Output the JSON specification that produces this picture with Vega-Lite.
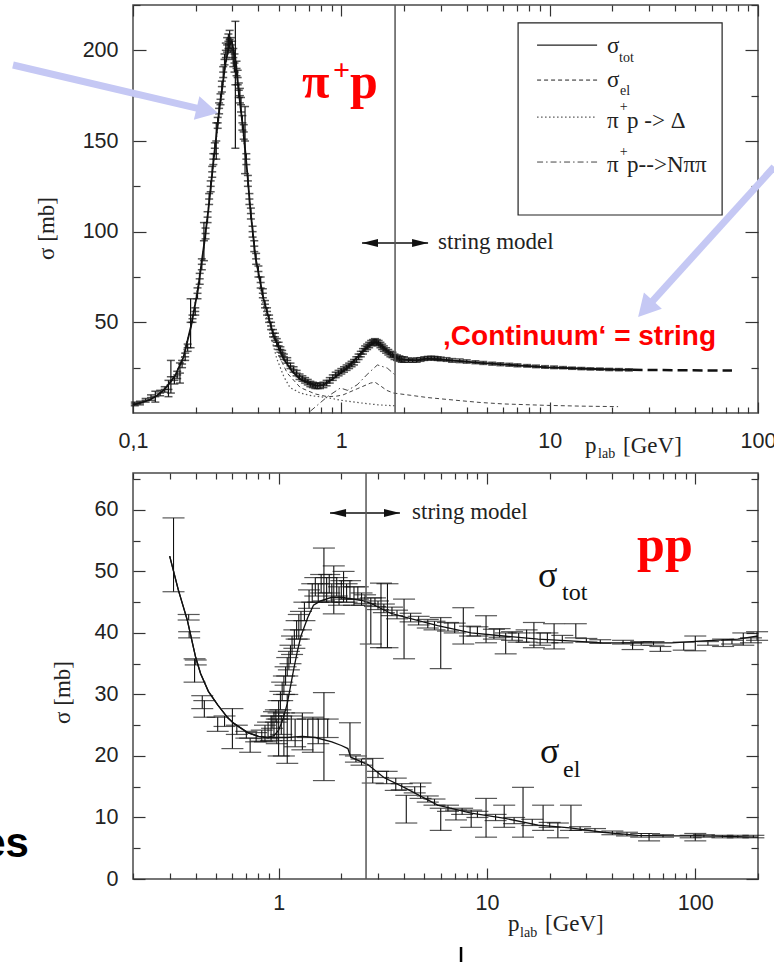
{
  "$schema": "https://vega.github.io/schema/vega-lite/v6.json",
  "autosize": {"type": "none"},
  "padding": {"left": 133, "top": 5, "right": 641, "bottom": 957},
  "background": "white",
  "spacing": 60,
  "bounds": "flush",
  "config": {
    "view": {"stroke": "#4a4a4a", "strokeWidth": 1.5},
    "axis": {"domain": false, "grid": false, "labelFont": "Liberation Sans", "labelFontSize": 21.5, "labelColor": "#222", "tickColor": "#333", "tickWidth": 1.2, "labelFlush": false, "labelOverlap": false, "labelBound": false, "titleFont": "Liberation Serif", "titleFontSize": 23, "titleFontWeight": "normal", "titleColor": "#222"},
    "text": {"font": "Liberation Serif"}
  },
  "datasets": {
    "topTot": [{"x":0.1,"y":4.5},{"x":0.11,"y":5.8},{"x":0.12,"y":7.2},{"x":0.13,"y":9.5},{"x":0.14,"y":12.5},{"x":0.15,"y":16.5},{"x":0.16,"y":21},{"x":0.175,"y":31},{"x":0.19,"y":48},{"x":0.205,"y":68},{"x":0.22,"y":94},{"x":0.23,"y":112},{"x":0.245,"y":142},{"x":0.26,"y":168},{"x":0.278,"y":193},{"x":0.29,"y":203},{"x":0.298,"y":205},{"x":0.31,"y":195},{"x":0.321,"y":178},{"x":0.339,"y":155},{"x":0.354,"y":132},{"x":0.366,"y":112},{"x":0.387,"y":86},{"x":0.423,"y":63},{"x":0.472,"y":43},{"x":0.527,"y":30},{"x":0.58,"y":23},{"x":0.636,"y":18.5},{"x":0.75,"y":15.2},{"x":0.82,"y":15.5},{"x":0.915,"y":19},{"x":1.0,"y":22.5},{"x":1.07,"y":25},{"x":1.23,"y":32.5},{"x":1.35,"y":37},{"x":1.45,"y":39},{"x":1.55,"y":37.5},{"x":1.72,"y":32.5},{"x":1.92,"y":29.5},{"x":2.31,"y":29},{"x":2.58,"y":30},{"x":3.22,"y":29.2},{"x":4.64,"y":27.6},{"x":9.73,"y":25.2},{"x":15,"y":24.4},{"x":20,"y":24},{"x":25,"y":23.8}],
    "topTotExt": [{"x":25,"y":23.8},{"x":40,"y":23.6},{"x":75,"y":23.4}],
    "topDelta": [{"x":0.1,"y":4.3},{"x":0.13,"y":9.3},{"x":0.16,"y":20.5},{"x":0.19,"y":47},{"x":0.22,"y":93},{"x":0.245,"y":141},{"x":0.278,"y":192},{"x":0.298,"y":204},{"x":0.31,"y":194},{"x":0.33,"y":166},{"x":0.35,"y":136},{"x":0.37,"y":108},{"x":0.39,"y":84},{"x":0.42,"y":61},{"x":0.455,"y":44},{"x":0.49,"y":30},{"x":0.53,"y":20},{"x":0.567,"y":14},{"x":0.636,"y":11},{"x":0.72,"y":9.5},{"x":0.857,"y":8.5},{"x":1.0,"y":7},{"x":1.25,"y":5.5},{"x":1.5,"y":4.5},{"x":1.8,"y":4}],
    "topEl": [{"x":0.5,"y":32},{"x":0.55,"y":22},{"x":0.636,"y":14},{"x":0.75,"y":10.5},{"x":0.857,"y":9},{"x":0.95,"y":9.3},{"x":1.02,"y":10},{"x":1.2,"y":13.5},{"x":1.38,"y":16.5},{"x":1.45,"y":17},{"x":1.54,"y":15},{"x":1.65,"y":12.5},{"x":1.78,"y":11},{"x":2.14,"y":9.8},{"x":2.6,"y":8.5},{"x":3.72,"y":6.8},{"x":4.64,"y":5.8},{"x":6,"y":5},{"x":9.73,"y":4.2},{"x":14,"y":3.8},{"x":21.3,"y":3.5}],
    "topNpp": [{"x":0.71,"y":1},{"x":0.78,"y":5},{"x":0.857,"y":9},{"x":0.99,"y":13.8},{"x":1.07,"y":12.5},{"x":1.19,"y":15.5},{"x":1.35,"y":22},{"x":1.49,"y":26.5},{"x":1.66,"y":24.8},{"x":1.81,"y":21}],
    "topPts": [
      {"x":0.102,"y":5,"lo":4,"hi":6},{"x":0.108,"y":5.5,"lo":4.5,"hi":6.5},{"x":0.115,"y":7,"lo":6,"hi":8},{"x":0.122,"y":8.5,"lo":7,"hi":10},{"x":0.128,"y":9,"lo":6,"hi":12},{"x":0.135,"y":11,"lo":9.5,"hi":12.5},{"x":0.142,"y":13,"lo":11.5,"hi":14.5},{"x":0.148,"y":13,"lo":9,"hi":18},{"x":0.152,"y":20,"lo":11,"hi":29},{"x":0.158,"y":18,"lo":16,"hi":20},{"x":0.163,"y":21,"lo":19,"hi":23},{"x":0.168,"y":22,"lo":16.5,"hi":27.6},{"x":0.172,"y":27,"lo":25,"hi":29},{"x":0.178,"y":31,"lo":29,"hi":33},{"x":0.183,"y":36,"lo":34,"hi":38},{"x":0.189,"y":50,"lo":36,"hi":63},{"x":0.193,"y":52,"lo":50,"hi":54},{"x":0.199,"y":56,"lo":54,"hi":58},{"x":0.204,"y":66,"lo":63,"hi":69},{"x":0.209,"y":74,"lo":71,"hi":77},{"x":0.214,"y":82,"lo":79,"hi":85},{"x":0.219,"y":95,"lo":84,"hi":105},{"x":0.223,"y":99,"lo":96,"hi":102},{"x":0.228,"y":108,"lo":105,"hi":111},{"x":0.232,"y":118,"lo":115,"hi":121},{"x":0.236,"y":125,"lo":122,"hi":128},{"x":0.24,"y":133,"lo":130,"hi":136},{"x":0.243,"y":140,"lo":137,"hi":143},{"x":0.247,"y":146,"lo":143,"hi":149},{"x":0.251,"y":150,"lo":140,"hi":160},{"x":0.255,"y":160,"lo":157,"hi":163},{"x":0.259,"y":168,"lo":165,"hi":171},{"x":0.263,"y":173,"lo":170,"hi":176},{"x":0.267,"y":180,"lo":177,"hi":183},{"x":0.271,"y":188,"lo":185,"hi":191},{"x":0.275,"y":195,"lo":192,"hi":198},{"x":0.279,"y":200,"lo":196,"hi":204},{"x":0.283,"y":203,"lo":199,"hi":207},{"x":0.287,"y":205,"lo":201,"hi":209},{"x":0.291,"y":206,"lo":201,"hi":211},{"x":0.295,"y":203,"lo":199,"hi":207},{"x":0.299,"y":200,"lo":195,"hi":205},{"x":0.303,"y":196,"lo":191,"hi":201},{"x":0.307,"y":193,"lo":188,"hi":198},{"x":0.31,"y":181,"lo":146,"hi":216},{"x":0.314,"y":190,"lo":186,"hi":194},{"x":0.318,"y":185,"lo":181,"hi":189},{"x":0.322,"y":178,"lo":174,"hi":182},{"x":0.326,"y":175,"lo":171,"hi":179},{"x":0.33,"y":170,"lo":166,"hi":174},{"x":0.335,"y":160,"lo":156,"hi":164},{"x":0.34,"y":155,"lo":151,"hi":159},{"x":0.345,"y":150,"lo":132,"hi":169},{"x":0.35,"y":140,"lo":137,"hi":143},{"x":0.356,"y":128,"lo":125,"hi":131},{"x":0.362,"y":118,"lo":115,"hi":121},{"x":0.368,"y":110,"lo":107,"hi":113},{"x":0.375,"y":100,"lo":97,"hi":103},{"x":0.382,"y":92,"lo":89,"hi":95},{"x":0.39,"y":85,"lo":82,"hi":88},{"x":0.4,"y":78,"lo":75,"hi":81},{"x":0.41,"y":72,"lo":69,"hi":75},{"x":0.42,"y":66,"lo":63.5,"hi":68.5},{"x":0.43,"y":60,"lo":58,"hi":62},{"x":0.44,"y":56,"lo":54,"hi":58},{"x":0.45,"y":52,"lo":50,"hi":54},{"x":0.46,"y":48,"lo":46,"hi":50},{"x":0.47,"y":44,"lo":42,"hi":46},{"x":0.48,"y":42,"lo":40,"hi":44},{"x":0.49,"y":39,"lo":37,"hi":41},{"x":0.5,"y":37,"lo":35,"hi":39},{"x":0.51,"y":35,"lo":33.5,"hi":36.5},{"x":0.52,"y":33,"lo":31.5,"hi":34.5},{"x":0.53,"y":31,"lo":29.5,"hi":32.5},{"x":0.55,"y":29,"lo":27.5,"hi":30.5},{"x":0.57,"y":26,"lo":24.5,"hi":27.5},{"x":0.59,"y":24,"lo":22.5,"hi":25.5},{"x":0.61,"y":22,"lo":20.5,"hi":23.5},{"x":0.63,"y":20,"lo":18.5,"hi":21.5},{"x":0.65,"y":19,"lo":17.5,"hi":20.5},{"x":0.67,"y":18,"lo":16.5,"hi":19.5},{"x":0.69,"y":17,"lo":15.5,"hi":18.5},{"x":0.71,"y":16,"lo":14.5,"hi":17.5},{"x":0.73,"y":15.5,"lo":14,"hi":17},{"x":0.75,"y":15,"lo":13.5,"hi":16.5},{"x":0.77,"y":15,"lo":13.5,"hi":16.5},{"x":0.79,"y":15,"lo":13.5,"hi":16.5},{"x":0.82,"y":15.5,"lo":14,"hi":17},{"x":0.85,"y":16.5,"lo":15,"hi":18},{"x":0.88,"y":18,"lo":16.5,"hi":19.5},{"x":0.91,"y":19.5,"lo":18,"hi":21},{"x":0.94,"y":21,"lo":19.5,"hi":22.5},{"x":0.97,"y":22,"lo":20.5,"hi":23.5},{"x":1.0,"y":23,"lo":21.5,"hi":24.5},{"x":1.03,"y":24,"lo":22.5,"hi":25.5},{"x":1.06,"y":25,"lo":23.5,"hi":26.5},{"x":1.09,"y":26,"lo":24.5,"hi":27.5},{"x":1.12,"y":27,"lo":25.5,"hi":28.5},{"x":1.15,"y":28,"lo":26.5,"hi":29.5},{"x":1.18,"y":29.5,"lo":28,"hi":31},{"x":1.21,"y":31,"lo":29.5,"hi":32.5},{"x":1.24,"y":32.5,"lo":31,"hi":34},{"x":1.27,"y":34,"lo":32.5,"hi":35.5},{"x":1.3,"y":35.5,"lo":34,"hi":37},{"x":1.33,"y":36.5,"lo":35,"hi":38},{"x":1.36,"y":37.5,"lo":36,"hi":39},{"x":1.39,"y":38.5,"lo":37,"hi":40},{"x":1.42,"y":39,"lo":37.5,"hi":40.5},{"x":1.45,"y":39.5,"lo":38,"hi":41},{"x":1.48,"y":39,"lo":37.5,"hi":40.5},{"x":1.51,"y":38.5,"lo":37,"hi":40},{"x":1.54,"y":37.5,"lo":36,"hi":39},{"x":1.57,"y":36.5,"lo":35,"hi":38},{"x":1.6,"y":35.5,"lo":34,"hi":37},{"x":1.64,"y":34.5,"lo":33,"hi":36},{"x":1.68,"y":33.5,"lo":32,"hi":35},{"x":1.72,"y":32.5,"lo":31,"hi":34},{"x":1.76,"y":32,"lo":30.5,"hi":33.5},{"x":1.8,"y":31,"lo":29.5,"hi":32.5},{"x":1.85,"y":30.5,"lo":29,"hi":32},{"x":1.9,"y":30,"lo":28.5,"hi":31.5},{"x":1.95,"y":29.5,"lo":28,"hi":31},{"x":2.0,"y":29.5,"lo":28,"hi":31},{"x":2.1,"y":29.2,"lo":28,"hi":30.4},{"x":2.2,"y":29,"lo":28,"hi":30},{"x":2.3,"y":29.2,"lo":28,"hi":30.4},{"x":2.4,"y":29.5,"lo":28.5,"hi":30.5},{"x":2.5,"y":30,"lo":29,"hi":31},{"x":2.6,"y":30.2,"lo":29.2,"hi":31.2},{"x":2.7,"y":30.3,"lo":29.3,"hi":31.3},{"x":2.8,"y":30.2,"lo":29.2,"hi":31.2},{"x":2.9,"y":30,"lo":29,"hi":31},{"x":3.0,"y":29.8,"lo":28.8,"hi":30.8},{"x":3.2,"y":29.5,"lo":28.5,"hi":30.5},{"x":3.4,"y":29,"lo":28,"hi":30},{"x":3.7,"y":28.8,"lo":27.8,"hi":29.8},{"x":4.0,"y":28.4,"lo":27.5,"hi":29.3},{"x":4.4,"y":28,"lo":27.2,"hi":28.8},{"x":4.8,"y":27.6,"lo":26.8,"hi":28.4},{"x":5.3,"y":27.2,"lo":26.4,"hi":28},{"x":5.8,"y":26.9,"lo":26.1,"hi":27.7},{"x":6.4,"y":26.6,"lo":25.8,"hi":27.4},{"x":7.0,"y":26.3,"lo":25.5,"hi":27.1},{"x":7.8,"y":26,"lo":25.3,"hi":26.7},{"x":8.6,"y":25.7,"lo":25,"hi":26.4},{"x":9.5,"y":25.4,"lo":24.7,"hi":26.1},{"x":10.5,"y":25.2,"lo":24.5,"hi":25.9},{"x":11.6,"y":25,"lo":24.4,"hi":25.6},{"x":12.8,"y":24.7,"lo":24.1,"hi":25.3},{"x":14.2,"y":24.5,"lo":23.9,"hi":25.1},{"x":15.7,"y":24.3,"lo":23.7,"hi":24.9},{"x":17.4,"y":24.2,"lo":23.6,"hi":24.8},{"x":19.3,"y":24,"lo":23.4,"hi":24.6},{"x":21.5,"y":23.9,"lo":23.3,"hi":24.5},{"x":24,"y":23.8,"lo":23.2,"hi":24.4}
    ],
    "botTot": [{"x":0.3,"y":52.5},{"x":0.33,"y":47},{"x":0.365,"y":42},{"x":0.4,"y":36},{"x":0.422,"y":33.4},{"x":0.46,"y":30.5},{"x":0.51,"y":28.3},{"x":0.57,"y":26.2},{"x":0.61,"y":25.3},{"x":0.71,"y":23.8},{"x":0.8,"y":23.2},{"x":0.88,"y":23},{"x":0.95,"y":23.3},{"x":1.0,"y":24.2},{"x":1.05,"y":26},{"x":1.1,"y":28.5},{"x":1.18,"y":34},{"x":1.23,"y":37},{"x":1.28,"y":39.5},{"x":1.38,"y":42.5},{"x":1.47,"y":44.5},{"x":1.59,"y":45.2},{"x":1.8,"y":45.8},{"x":2.0,"y":45.8},{"x":2.56,"y":45.2},{"x":2.77,"y":44.8},{"x":3.45,"y":43.2},{"x":4.0,"y":42.6},{"x":5.8,"y":41.2},{"x":8.4,"y":40},{"x":12,"y":39.5},{"x":17.6,"y":39},{"x":25,"y":38.7},{"x":36,"y":38.4},{"x":53,"y":38.4},{"x":77,"y":38.4},{"x":110,"y":38.7},{"x":160,"y":39},{"x":200,"y":39.5}],
    "botEl": [{"x":0.3,"y":52.5},{"x":0.33,"y":47},{"x":0.365,"y":42},{"x":0.4,"y":36},{"x":0.422,"y":33.4},{"x":0.46,"y":30.5},{"x":0.51,"y":28.3},{"x":0.57,"y":26.2},{"x":0.61,"y":25.3},{"x":0.71,"y":23.8},{"x":0.8,"y":23.2},{"x":0.88,"y":23},{"x":0.95,"y":23},{"x":1.1,"y":23},{"x":1.3,"y":23.2},{"x":1.5,"y":23},{"x":1.8,"y":22.3},{"x":2.0,"y":21.7},{"x":2.15,"y":21.2},{"x":2.22,"y":19.8},{"x":2.68,"y":18.6},{"x":3.2,"y":16.5},{"x":4.0,"y":14.9},{"x":5.8,"y":12},{"x":8.4,"y":10.7},{"x":12,"y":9.9},{"x":17.6,"y":8.75},{"x":25,"y":8.3},{"x":36,"y":7.6},{"x":53,"y":7.1},{"x":77,"y":7},{"x":110,"y":7},{"x":200,"y":6.8}],
    "botPts": [
      {"x":0.313,"y":52.7,"lo":46.7,"hi":58.7},{"x":0.37,"y":42.5,"lo":42.1,"hi":43},{"x":0.372,"y":39.7,"lo":39.2,"hi":40.2},{"x":0.395,"y":33.9,"lo":32,"hi":35.8},{"x":0.4,"y":35.2,"lo":34.8,"hi":35.6},{"x":0.43,"y":28.5,"lo":27.7,"hi":29.8},{"x":0.44,"y":27,"lo":26.3,"hi":29},{"x":0.51,"y":25.2,"lo":24,"hi":26.3},{"x":0.55,"y":25.5,"lo":24.8,"hi":26.5},{"x":0.6,"y":24.5,"lo":21.2,"hi":27.7},{"x":0.63,"y":24.2,"lo":23.5,"hi":25},{"x":0.7,"y":23.5,"lo":22.9,"hi":24},{"x":0.73,"y":21.8,"lo":20.6,"hi":22.9},{"x":0.78,"y":23,"lo":22.3,"hi":23.8},{"x":0.83,"y":23.2,"lo":22.4,"hi":24.2},{"x":0.86,"y":23.5,"lo":22.3,"hi":25},{"x":0.89,"y":24,"lo":22.8,"hi":25.5},{"x":0.92,"y":24.3,"lo":22.5,"hi":26.5},{"x":0.95,"y":25,"lo":23,"hi":27.2},{"x":0.98,"y":24,"lo":22,"hi":26},{"x":1.0,"y":23.5,"lo":20,"hi":27},{"x":1.03,"y":25,"lo":23.5,"hi":26.5},{"x":1.06,"y":23.5,"lo":20,"hi":27},{"x":1.1,"y":24.4,"lo":18.8,"hi":30},{"x":1.15,"y":24.5,"lo":22.5,"hi":26.5},{"x":1.2,"y":23.8,"lo":21.5,"hi":26},{"x":1.3,"y":24,"lo":21,"hi":27},{"x":1.38,"y":24.5,"lo":23,"hi":26},{"x":1.46,"y":23.4,"lo":20.6,"hi":26.3},{"x":1.55,"y":24,"lo":22,"hi":26},{"x":1.65,"y":23.2,"lo":16,"hi":30.3},{"x":1.72,"y":24.5,"lo":23,"hi":26},{"x":2.2,"y":22.8,"lo":20.2,"hi":25.4},{"x":2.35,"y":19.5,"lo":19,"hi":20},
      {"x":0.93,"y":25.5,"lo":24.5,"hi":26.5},{"x":0.97,"y":26.5,"lo":25.5,"hi":27.5},{"x":1.0,"y":27.5,"lo":26,"hi":29},{"x":1.02,"y":29,"lo":27.5,"hi":30.5},{"x":1.04,"y":30.5,"lo":29,"hi":32},{"x":1.06,"y":31.5,"lo":30,"hi":33},{"x":1.08,"y":33,"lo":31.5,"hi":34.5},{"x":1.1,"y":34.5,"lo":33,"hi":36},{"x":1.12,"y":35.5,"lo":34,"hi":37},{"x":1.14,"y":36.5,"lo":35,"hi":38},{"x":1.16,"y":38,"lo":36.5,"hi":39.5},{"x":1.19,"y":39,"lo":37.5,"hi":40.5},{"x":1.22,"y":40.5,"lo":39,"hi":42},{"x":1.25,"y":41,"lo":39,"hi":43},{"x":1.28,"y":42,"lo":40.5,"hi":43.5},{"x":1.33,"y":43.5,"lo":42,"hi":45},{"x":1.4,"y":45.5,"lo":44,"hi":47},{"x":1.45,"y":46.5,"lo":45,"hi":48},{"x":1.5,"y":47.5,"lo":46,"hi":49},{"x":1.55,"y":46.5,"lo":45,"hi":48},{"x":1.6,"y":48,"lo":46.5,"hi":49.5},{"x":1.65,"y":49.5,"lo":45.2,"hi":53.8},{"x":1.7,"y":47,"lo":45,"hi":49},{"x":1.75,"y":48,"lo":46.5,"hi":49.5},{"x":1.8,"y":46.5,"lo":45,"hi":48},{"x":1.84,"y":47,"lo":43.1,"hi":50.9},{"x":1.9,"y":47.5,"lo":46,"hi":49},{"x":1.95,"y":46,"lo":44.5,"hi":47.5},{"x":2.0,"y":47,"lo":45.5,"hi":48.5},{"x":2.05,"y":47.5,"lo":45,"hi":50},{"x":2.12,"y":46.5,"lo":45,"hi":48},{"x":2.2,"y":47,"lo":45.5,"hi":48.5},{"x":2.3,"y":46,"lo":44.5,"hi":47.5},{"x":2.4,"y":46.5,"lo":45.5,"hi":47.5},{"x":2.5,"y":45.5,"lo":44.5,"hi":46.5},{"x":2.6,"y":45.5,"lo":44.8,"hi":46.2},{"x":2.77,"y":42,"lo":38.2,"hi":45.7},{"x":2.9,"y":45,"lo":44.3,"hi":45.7},{"x":3.0,"y":44.5,"lo":43.8,"hi":45.2},{"x":3.1,"y":42.8,"lo":37.6,"hi":48.1},{"x":3.2,"y":44,"lo":43.3,"hi":44.7},{"x":3.33,"y":42.8,"lo":37.6,"hi":48},{"x":3.5,"y":43.5,"lo":42.8,"hi":44.2},{"x":3.7,"y":43,"lo":42.3,"hi":43.7},{"x":4.0,"y":40.6,"lo":35.8,"hi":45.5},{"x":4.3,"y":42.5,"lo":41.8,"hi":43.2},{"x":4.7,"y":42,"lo":41.3,"hi":42.7},{"x":5.2,"y":41.5,"lo":40.8,"hi":42.2},{"x":5.6,"y":41.2,"lo":40.5,"hi":41.9},{"x":6.0,"y":38.3,"lo":34.2,"hi":42.5},{"x":6.5,"y":41,"lo":40.3,"hi":41.7},{"x":7.0,"y":40.8,"lo":40,"hi":41.6},{"x":7.7,"y":41.1,"lo":38.2,"hi":44.1},{"x":8.3,"y":40.3,"lo":39.5,"hi":41.1},{"x":9.0,"y":40.2,"lo":39.5,"hi":41},{"x":9.9,"y":40.6,"lo":38.4,"hi":42.8},{"x":10.8,"y":39.8,"lo":39,"hi":40.6},{"x":11.5,"y":40,"lo":39.3,"hi":40.7},{"x":12.3,"y":38.3,"lo":36.6,"hi":40},{"x":13.2,"y":39.5,"lo":38.8,"hi":40.2},{"x":14.2,"y":39.3,"lo":38.5,"hi":40},{"x":15.5,"y":39.5,"lo":38.5,"hi":40.5},{"x":16.8,"y":39.6,"lo":37.6,"hi":41.7},{"x":18,"y":39,"lo":38,"hi":40},{"x":19.5,"y":39.2,"lo":38.4,"hi":40},{"x":21,"y":39.4,"lo":37.4,"hi":41.5},{"x":23,"y":39,"lo":38.4,"hi":39.6},{"x":26.7,"y":39.6,"lo":39.2,"hi":41.5},{"x":30,"y":38.8,"lo":38.5,"hi":39.1},{"x":35,"y":38.6,"lo":38.3,"hi":38.9},{"x":45,"y":38.5,"lo":38.2,"hi":38.8},{"x":50,"y":37.9,"lo":37.3,"hi":38.4},{"x":55,"y":38.3,"lo":38,"hi":38.6},{"x":63,"y":38.3,"lo":38,"hi":38.6},{"x":68,"y":37.4,"lo":37,"hi":37.8},{"x":88,"y":37.9,"lo":37.2,"hi":38.5},{"x":100,"y":38.2,"lo":37.1,"hi":39.5},{"x":115,"y":38.3,"lo":38,"hi":38.6},{"x":136,"y":38.4,"lo":37.8,"hi":39},{"x":150,"y":38.5,"lo":38.2,"hi":38.8},{"x":170,"y":39,"lo":38,"hi":40},{"x":185,"y":38.8,"lo":38.4,"hi":39.2},{"x":198,"y":39.5,"lo":38.8,"hi":40.2},
      {"x":2.5,"y":19,"lo":18.5,"hi":19.5},{"x":2.83,"y":17.6,"lo":15.6,"hi":19.6},{"x":3.0,"y":17,"lo":16.5,"hi":17.5},{"x":3.3,"y":16.5,"lo":15.5,"hi":17.5},{"x":3.65,"y":15.4,"lo":14.4,"hi":16.4},{"x":3.9,"y":15,"lo":14.5,"hi":15.5},{"x":4.1,"y":11.3,"lo":9.1,"hi":13.6},{"x":4.5,"y":14.5,"lo":14,"hi":15},{"x":4.8,"y":14.3,"lo":13.1,"hi":15.6},{"x":5.2,"y":13,"lo":12.5,"hi":13.5},{"x":5.6,"y":12.5,"lo":12,"hi":13},{"x":6.0,"y":9.7,"lo":7.9,"hi":11.5},{"x":6.5,"y":11.5,"lo":11,"hi":12},{"x":7.1,"y":10.4,"lo":9.6,"hi":11.2},{"x":7.6,"y":11,"lo":10.5,"hi":11.5},{"x":8.4,"y":9.8,"lo":8.4,"hi":11.2},{"x":9.0,"y":10.5,"lo":10,"hi":11},{"x":9.9,"y":9.95,"lo":6.8,"hi":13.1},{"x":11,"y":10,"lo":9.5,"hi":10.5},{"x":12.1,"y":10.2,"lo":8.4,"hi":12},{"x":13.5,"y":9.5,"lo":9,"hi":10},{"x":14.9,"y":10.85,"lo":6.8,"hi":14.9},{"x":16.5,"y":9.2,"lo":8.7,"hi":9.7},{"x":18.6,"y":9.9,"lo":7.9,"hi":12},{"x":20,"y":8.8,"lo":8.4,"hi":9.2},{"x":21.9,"y":7.9,"lo":6.7,"hi":9.1},{"x":25.3,"y":9.95,"lo":7.9,"hi":12},{"x":28,"y":8.2,"lo":7.9,"hi":8.5},{"x":33,"y":7.9,"lo":7.6,"hi":8.2},{"x":40,"y":7.5,"lo":7.2,"hi":7.8},{"x":47,"y":7.3,"lo":7,"hi":7.6},{"x":55,"y":7.1,"lo":6.8,"hi":7.4},{"x":60,"y":6.8,"lo":6.2,"hi":7.4},{"x":70,"y":7,"lo":6.8,"hi":7.2},{"x":95,"y":6.9,"lo":6.7,"hi":7.1},{"x":100,"y":6.8,"lo":6.2,"hi":7.4},{"x":110,"y":7,"lo":6.8,"hi":7.2},{"x":135,"y":6.9,"lo":6.7,"hi":7.1},{"x":160,"y":6.9,"lo":6.7,"hi":7.1},{"x":190,"y":6.9,"lo":6.7,"hi":7.1}
    ]
  },
  "vconcat": [
    {
      "width": 625,
      "height": 408,
      "layer": [
        {
          "encoding": {
            "x": {"field": "x", "type": "quantitative", "scale": {"type": "log", "domain": [0.1, 100], "nice": false}, "axis": null},
            "y": {"field": "y", "type": "quantitative", "scale": {"domain": [0, 225], "nice": false, "zero": false}, "axis": null}
          },
          "layer": [
            {"data": {"name": "topPts"}, "mark": {"type": "rule", "color": "#111", "strokeWidth": 1.2}, "encoding": {"y": {"field": "lo", "type": "quantitative", "axis": null}, "y2": {"field": "hi"}}},
            {"data": {"name": "topPts"}, "mark": {"type": "tick", "orient": "horizontal", "size": 8, "thickness": 1.5, "color": "#111"}, "encoding": {"y": {"field": "lo", "type": "quantitative", "axis": null}}},
            {"data": {"name": "topPts"}, "mark": {"type": "tick", "orient": "horizontal", "size": 8, "thickness": 1.5, "color": "#111"}, "encoding": {"y": {"field": "hi", "type": "quantitative", "axis": null}}},
            {"data": {"name": "topPts"}, "mark": {"type": "tick", "orient": "horizontal", "size": 8, "thickness": 1.5, "color": "#111"}},
            {"data": {"name": "topDelta"}, "mark": {"type": "line", "color": "#555", "strokeWidth": 1.2, "strokeDash": [1.5, 2.5]}},
            {"data": {"name": "topEl"}, "mark": {"type": "line", "color": "#444", "strokeWidth": 1, "strokeDash": [4, 3]}},
            {"data": {"name": "topNpp"}, "mark": {"type": "line", "color": "#444", "strokeWidth": 1, "strokeDash": [6, 3, 1.5, 3]}},
            {"data": {"name": "topTot"}, "mark": {"type": "line", "color": "#111", "strokeWidth": 1.8}},
            {"data": {"name": "topTotExt"}, "mark": {"type": "line", "color": "#111", "strokeWidth": 2.5, "strokeDash": [10, 5]}},
            {"data": {"values": [{"x": 8.7, "x2": 16.89, "y": 202.9}]}, "mark": {"type": "rule", "color": "#222", "strokeWidth": 1.2}, "encoding": {"x2": {"field": "x2"}}},
            {"data": {"values": [{"x": 8.7, "x2": 16.89, "y": 183.6}]}, "mark": {"type": "rule", "color": "#222", "strokeWidth": 1, "strokeDash": [4, 3]}, "encoding": {"x2": {"field": "x2"}}},
            {"data": {"values": [{"x": 8.7, "x2": 16.89, "y": 163.2}]}, "mark": {"type": "rule", "color": "#555", "strokeWidth": 1.2, "strokeDash": [1.5, 2.5]}, "encoding": {"x2": {"field": "x2"}}},
            {"data": {"values": [{"x": 8.7, "x2": 16.89, "y": 138.4}]}, "mark": {"type": "rule", "color": "#444", "strokeWidth": 1, "strokeDash": [6, 3, 1.5, 3]}, "encoding": {"x2": {"field": "x2"}}},
            {"data": {"values": [{"x": 1.257, "x2": 2.608, "y": 93.75}]}, "mark": {"type": "rule", "color": "#111", "strokeWidth": 1.3}, "encoding": {"x2": {"field": "x2"}}},
            {"data": {"values": [{"x": 1.373, "y": 93.75}]}, "mark": {"type": "point", "shape": "M -1 0 L 1 -0.5 L 1 0.5 Z", "size": 256, "filled": true, "color": "#111", "opacity": 1}},
            {"data": {"values": [{"x": 2.387, "y": 93.75}]}, "mark": {"type": "point", "shape": "M 1 0 L -1 -0.5 L -1 0.5 Z", "size": 256, "filled": true, "color": "#111", "opacity": 1}},
            {"data": {"values": [{"x": 2.912, "y": 90.4, "t": "string model"}, {"x": 18.86, "y": 198.5, "t": "σ"}, {"x": 18.86, "y": 179.8, "t": "σ"}, {"x": 18.86, "y": 157.2, "t": "π"}, {"x": 23.53, "y": 157.2, "t": "p -> Δ"}, {"x": 18.86, "y": 132.9, "t": "π"}, {"x": 23.53, "y": 132.9, "t": "p-->Nππ"}, {"x": 14.79, "y": -22.06, "t": "p"}, {"x": 22.5, "y": -22.06, "t": "[GeV]"}]},
              "mark": {"type": "text", "align": "left", "baseline": "alphabetic", "font": "Liberation Serif", "fontSize": 23, "color": "#222"}, "encoding": {"text": {"field": "t"}}},
            {"data": {"values": [{"x": 21.54, "y": 193.6, "t": "tot"}, {"x": 21.78, "y": 175.4, "t": "el"}, {"x": 21.7, "y": 166.5, "t": "+"}, {"x": 21.7, "y": 141.7, "t": "+"}, {"x": 17.07, "y": -24.8, "t": "lab"}]},
              "mark": {"type": "text", "align": "left", "baseline": "alphabetic", "font": "Liberation Serif", "fontSize": 14, "color": "#222"}, "encoding": {"text": {"field": "t"}}},
            {"data": {"values": [{"x": 0.6476, "y": 173.7, "t": "π"}, {"x": 1.101, "y": 173.7, "t": "p"}]},
              "mark": {"type": "text", "align": "left", "baseline": "alphabetic", "font": "Liberation Serif", "fontSize": 50, "fontWeight": "bold", "color": "#ff0000"}, "encoding": {"text": {"field": "t"}}},
            {"data": {"values": [{"x": 0.912, "y": 183.6, "t": "+"}]},
              "mark": {"type": "text", "align": "left", "baseline": "alphabetic", "font": "Liberation Serif", "fontSize": 30, "fontWeight": "bold", "color": "#ff0000"}, "encoding": {"text": {"field": "t"}}},
            {"data": {"values": [{"x": 3.078, "y": 37.5, "t": "‚Continuum‘ = string"}]},
              "mark": {"type": "text", "align": "left", "baseline": "alphabetic", "font": "Liberation Sans", "fontSize": 28, "fontWeight": "bold", "color": "#ff0000"}, "encoding": {"text": {"field": "t"}}},
            {"data": {"values": [{"x": 0.02654, "y": 191.9, "x2": 0.2274, "y2": 166.8}, {"x": 119.5, "y": 135.7, "x2": 28.84, "y2": 57.46}]}, "mark": {"type": "rule", "color": "#c5c8f4", "strokeWidth": 7}, "encoding": {"x2": {"field": "x2"}, "y2": {"field": "y2"}}},
            {"data": {"values": [{"x": 0.2274, "y": 166.8}]}, "mark": {"type": "point", "shape": "M 1 0 L -1 -1.1 L -1 1.1 Z", "size": 484, "angle": 13.2, "filled": true, "color": "#c5c8f4", "opacity": 1}},
            {"data": {"values": [{"x": 28.84, "y": 57.46}]}, "mark": {"type": "point", "shape": "M 1 0 L -1 -1.1 L -1 1.1 Z", "size": 484, "angle": 132.2, "filled": true, "color": "#c5c8f4", "opacity": 1}}
          ]
        },
        {
          "data": {"values": [{"x": 1.811, "y": 0, "y2": 225}]},
          "mark": {"type": "rule", "color": "#555", "strokeWidth": 1.5},
          "encoding": {
            "x": {"field": "x", "type": "quantitative", "scale": {"type": "log", "domain": [0.1, 100], "nice": false},
              "axis": {"orient": "bottom", "values": [0.1,0.2,0.3,0.4,0.5,0.6,0.7,0.8,0.9,1,2,3,4,5,6,7,8,9,10,20,30,40,50,60,70,80,90,100],
                "labelExpr": "datum.value == 0.1 ? '0,1' : ((datum.value == 1 || datum.value == 10 || datum.value == 100) ? format(datum.value, 'd') : '')",
                "tickSize": {"condition": {"test": "datum.value == 0.1 || datum.value == 1 || datum.value == 10 || datum.value == 100", "value": -11}, "value": -6},
                "labelPadding": 28, "title": null}},
            "y": {"field": "y", "type": "quantitative", "scale": {"domain": [0, 225], "nice": false, "zero": false},
              "axis": {"orient": "left", "values": [25,50,75,100,125,150,175,200,225],
                "labelExpr": "datum.value % 50 == 0 ? format(datum.value, 'd') : ''",
                "tickSize": {"condition": {"test": "datum.value % 50 == 0", "value": -13}, "value": -7},
                "labelPadding": 28, "title": "σ [mb]", "titleFont": "Liberation Serif", "titleFontSize": 23, "titleFontWeight": "normal", "titleColor": "#222", "titleX": -87, "titleY": 223, "titleAngle": -90, "titleBaseline": "middle", "titleAlign": "center"}},
            "y2": {"field": "y2"}
          }
        },
        {
          "data": {"values": [{"x": 7.054, "x2": 67.26, "y": 215.1, "y2": 109.2}]},
          "mark": {"type": "rect", "fill": "white", "fillOpacity": 0, "stroke": "#222", "strokeWidth": 1.2},
          "encoding": {
            "x": {"field": "x", "type": "quantitative", "scale": {"type": "log", "domain": [0.1, 100], "nice": false},
              "axis": {"orient": "top", "values": [0.1,0.2,0.3,0.4,0.5,0.6,0.7,0.8,0.9,1,2,3,4,5,6,7,8,9,10,20,30,40,50,60,70,80,90,100], "labels": false,
                "tickSize": {"condition": {"test": "datum.value == 0.1 || datum.value == 1 || datum.value == 10 || datum.value == 100", "value": -11}, "value": -6}, "title": null}},
            "x2": {"field": "x2"},
            "y": {"field": "y", "type": "quantitative", "scale": {"domain": [0, 225], "nice": false, "zero": false},
              "axis": {"orient": "right", "values": [25,50,75,100,125,150,175,200,225], "labels": false,
                "tickSize": {"condition": {"test": "datum.value % 50 == 0", "value": -13}, "value": -7}, "title": null}},
            "y2": {"field": "y2"}
          }
        }
      ],
      "resolve": {"axis": {"x": "independent", "y": "independent"}}
    },
    {
      "width": 625,
      "height": 406,
      "layer": [
        {
          "encoding": {
            "x": {"field": "x", "type": "quantitative", "scale": {"type": "log", "domain": [0.2, 200], "nice": false}, "axis": null},
            "y": {"field": "y", "type": "quantitative", "scale": {"domain": [0, 66], "nice": false, "zero": false}, "axis": null}
          },
          "layer": [
            {"data": {"name": "botPts"}, "mark": {"type": "rule", "color": "#111", "strokeWidth": 1.1}, "encoding": {"y": {"field": "lo", "type": "quantitative", "axis": null}, "y2": {"field": "hi"}}},
            {"data": {"name": "botPts"}, "mark": {"type": "tick", "orient": "horizontal", "size": 22, "thickness": 1.2, "color": "#111"}, "encoding": {"y": {"field": "lo", "type": "quantitative", "axis": null}}},
            {"data": {"name": "botPts"}, "mark": {"type": "tick", "orient": "horizontal", "size": 22, "thickness": 1.2, "color": "#111"}, "encoding": {"y": {"field": "hi", "type": "quantitative", "axis": null}}},
            {"data": {"name": "botEl"}, "mark": {"type": "line", "color": "#111", "strokeWidth": 1.3}},
            {"data": {"name": "botTot"}, "mark": {"type": "line", "color": "#111", "strokeWidth": 1.3}},
            {"data": {"values": [{"x": 1.765, "x2": 3.822, "y": 59.5}]}, "mark": {"type": "rule", "color": "#111", "strokeWidth": 1.3}, "encoding": {"x2": {"field": "x2"}}},
            {"data": {"values": [{"x": 1.929, "y": 59.5}]}, "mark": {"type": "point", "shape": "M -1 0 L 1 -0.5 L 1 0.5 Z", "size": 256, "filled": true, "color": "#111", "opacity": 1}},
            {"data": {"values": [{"x": 3.502, "y": 59.5}]}, "mark": {"type": "point", "shape": "M 1 0 L -1 -0.5 L -1 0.5 Z", "size": 256, "filled": true, "color": "#111", "opacity": 1}},
            {"data": {"values": [{"x": 4.37, "y": 58.5, "t": "string model"}, {"x": 12.63, "y": -8.45, "t": "p"}, {"x": 19.0, "y": -8.45, "t": "[GeV]"}]},
              "mark": {"type": "text", "align": "left", "baseline": "alphabetic", "font": "Liberation Serif", "fontSize": 23, "color": "#222"}, "encoding": {"text": {"field": "t"}}},
            {"data": {"values": [{"x": 14.42, "y": -9.43, "t": "lab"}]},
              "mark": {"type": "text", "align": "left", "baseline": "alphabetic", "font": "Liberation Serif", "fontSize": 14, "color": "#222"}, "encoding": {"text": {"field": "t"}}},
            {"data": {"values": [{"x": 17.59, "y": 47.47, "t": "σ"}, {"x": 17.98, "y": 18.86, "t": "σ"}]},
              "mark": {"type": "text", "align": "left", "baseline": "alphabetic", "font": "Liberation Serif", "fontSize": 36, "color": "#111"}, "encoding": {"text": {"field": "t"}}},
            {"data": {"values": [{"x": 22.94, "y": 45.35, "t": "tot"}, {"x": 23.19, "y": 16.58, "t": "el"}]},
              "mark": {"type": "text", "align": "left", "baseline": "alphabetic", "font": "Liberation Serif", "fontSize": 24, "color": "#111"}, "encoding": {"text": {"field": "t"}}},
            {"data": {"values": [{"x": 52.55, "y": 51.7, "t": "pp"}]},
              "mark": {"type": "text", "align": "left", "baseline": "alphabetic", "font": "Liberation Serif", "fontSize": 50, "fontWeight": "bold", "color": "#ff0000"}, "encoding": {"text": {"field": "t"}}},
            {"data": {"values": [{"x": 0.0633, "y": 3.58, "t": "es"}]},
              "mark": {"type": "text", "align": "right", "baseline": "alphabetic", "font": "Liberation Sans", "fontSize": 42, "fontWeight": "bold", "color": "#000"}, "encoding": {"text": {"field": "t"}}}
          ]
        },
        {
          "data": {"values": [{"x": 2.628, "y": 0, "y2": 66}]},
          "mark": {"type": "rule", "color": "#555", "strokeWidth": 1.5},
          "encoding": {
            "x": {"field": "x", "type": "quantitative", "scale": {"type": "log", "domain": [0.2, 200], "nice": false},
              "axis": {"orient": "bottom", "values": [0.2,0.3,0.4,0.5,0.6,0.7,0.8,0.9,1,2,3,4,5,6,7,8,9,10,20,30,40,50,60,70,80,90,100,200],
                "labelExpr": "(datum.value == 1 || datum.value == 10 || datum.value == 100) ? format(datum.value, 'd') : ''",
                "tickSize": {"condition": {"test": "datum.value == 1 || datum.value == 10 || datum.value == 100", "value": -11}, "value": -6},
                "labelPadding": 24, "title": null}},
            "y": {"field": "y", "type": "quantitative", "scale": {"domain": [0, 66], "nice": false, "zero": false},
              "axis": {"orient": "left", "values": [0,5,10,15,20,25,30,35,40,45,50,55,60,65],
                "labelExpr": "datum.value % 10 == 0 ? format(datum.value, 'd') : ''",
                "tickSize": {"condition": {"test": "datum.value % 10 == 0", "value": -12}, "value": -7},
                "labelPadding": 27, "title": "σ [mb]", "titleFont": "Liberation Serif", "titleFontSize": 23, "titleFontWeight": "normal", "titleColor": "#222", "titleX": -71, "titleY": 219, "titleAngle": -90, "titleBaseline": "middle", "titleAlign": "center"}},
            "y2": {"field": "y2"}
          }
        },
        {
          "data": {"values": [{"x": 7.51, "y": -11.05, "y2": -14}]},
          "mark": {"type": "rule", "color": "#000", "strokeWidth": 2.5},
          "encoding": {
            "x": {"field": "x", "type": "quantitative", "scale": {"type": "log", "domain": [0.2, 200], "nice": false},
              "axis": {"orient": "top", "values": [0.2,0.3,0.4,0.5,0.6,0.7,0.8,0.9,1,2,3,4,5,6,7,8,9,10,20,30,40,50,60,70,80,90,100,200], "labels": false,
                "tickSize": {"condition": {"test": "datum.value == 1 || datum.value == 10 || datum.value == 100", "value": -11}, "value": -6}, "title": null}},
            "y": {"field": "y", "type": "quantitative", "scale": {"domain": [0, 66], "nice": false, "zero": false},
              "axis": {"orient": "right", "values": [0,5,10,15,20,25,30,35,40,45,50,55,60,65], "labels": false,
                "tickSize": {"condition": {"test": "datum.value % 10 == 0", "value": -12}, "value": -7}, "title": null}},
            "y2": {"field": "y2"}
          }
        }
      ],
      "resolve": {"axis": {"x": "independent", "y": "independent"}}
    }
  ]
}
